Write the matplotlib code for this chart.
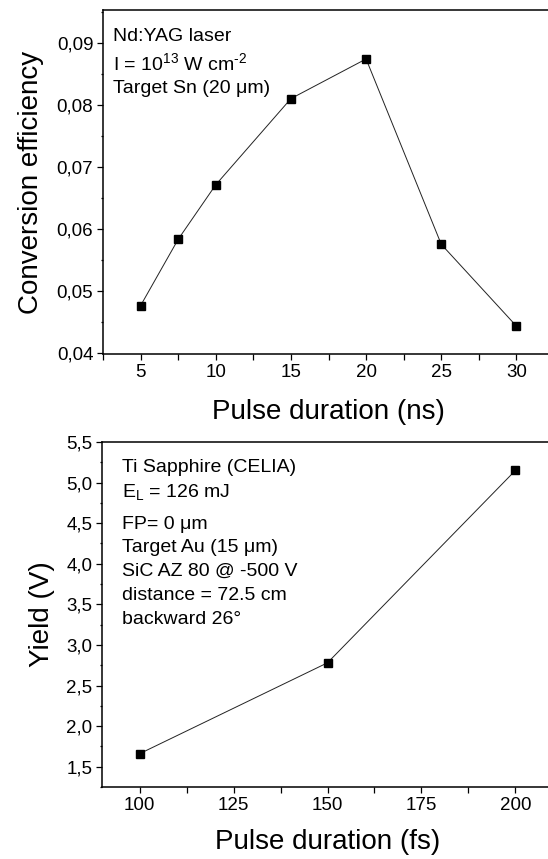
import matplotlib
matplotlib.use('Agg')
import matplotlib.pyplot as plt
from matplotlib.ticker import MultipleLocator, FuncFormatter

plt.rcParams['font.family'] = ['Liberation Sans', 'DejaVu Sans']
plt.rcParams['mathtext.fontset'] = 'custom'
plt.rcParams['mathtext.rm'] = 'Liberation Sans'
plt.rcParams['mathtext.it'] = 'Liberation Sans:italic'

# data
ns_duration = [5, 7.5, 10, 15, 20, 25, 30]
conv_eff = [0.0476, 0.0583, 0.0671, 0.0810, 0.0874, 0.0575, 0.0443]

fs_duration = [100, 150, 200]
yield_v = [1.66, 2.78, 5.15]

top_notes = ['Nd:YAG laser', 'I = 10$^{13}$ W cm$^{\\text{-2}}$', 'Target Sn (20 μm)']
bottom_notes = ['Ti Sapphire (CELIA)', 'E$_\\mathregular{L}$ = 126 mJ', 'FP= 0 μm',
                'Target Au (15 μm)', 'SiC AZ 80 @ -500 V', 'distance = 72.5 cm',
                'backward 26°']

fig = plt.figure(figsize=(5.48, 8.59), dpi=100)
W, H = 548, 859

def px_axes(left, top, right, bottom):
    return fig.add_axes([left / W, 1 - bottom / H, (right - left) / W, (bottom - top) / H])

ax1 = px_axes(103, 10, 554, 354)
ax2 = px_axes(102, 442, 553, 787)

comma1 = FuncFormatter(lambda v, p: ('%.1f' % v).replace('.', ','))
comma2 = FuncFormatter(lambda v, p: ('%.2f' % v).replace('.', ','))

for ax in (ax1, ax2):
    ax.spines['right'].set_visible(False)
    for s in ('left', 'bottom', 'top'):
        ax.spines[s].set_linewidth(1.1)
    ax.tick_params(which='both', direction='out', top=False, right=False,
                   labelsize=13.5, width=0.9, pad=3)
    ax.tick_params(which='major', length=4)
    ax.tick_params(axis='x', which='minor', length=4, width=0.9)
    ax.tick_params(axis='y', which='minor', length=1.5, width=0.9)

# top: ns pulses
ax1.plot(ns_duration, conv_eff, color='#222222', lw=0.7, marker='s', ms=5.5,
         mfc='black', mec='black')
ax1.set_xlim(2.5, 32.5)
ax1.set_ylim(0.0398, 0.0953)
ax1.xaxis.set_major_locator(MultipleLocator(5))
ax1.xaxis.set_minor_locator(MultipleLocator(2.5))
ax1.yaxis.set_major_locator(MultipleLocator(0.01))
ax1.yaxis.set_minor_locator(MultipleLocator(0.005))
ax1.yaxis.set_major_formatter(comma2)
ax1.set_xlabel('Pulse duration (ns)', fontsize=20, labelpad=13)
ax1.set_ylabel('Conversion efficiency', fontsize=20, labelpad=9)
for txt, yf in zip(top_notes, [0.922, 0.846, 0.773]):
    ax1.text(0.0215, yf, txt, transform=ax1.transAxes, fontsize=14,
             ha='left', va='center')

# bottom: fs pulses
ax2.plot(fs_duration, yield_v, color='#222222', lw=0.7, marker='s', ms=5.5,
         mfc='black', mec='black')
ax2.set_xlim(90, 210)
ax2.set_ylim(1.25, 5.5)
ax2.xaxis.set_major_locator(MultipleLocator(25))
ax2.xaxis.set_minor_locator(MultipleLocator(12.5))
ax2.yaxis.set_major_locator(MultipleLocator(0.5))
ax2.yaxis.set_minor_locator(MultipleLocator(0.25))
ax2.yaxis.set_major_formatter(comma1)
ax2.set_xlabel('Pulse duration (fs)', fontsize=20, labelpad=11)
ax2.set_ylabel('Yield (V)', fontsize=20, labelpad=8)
for txt, yf in zip(bottom_notes, [0.925, 0.855, 0.760, 0.694, 0.624, 0.555, 0.486]):
    ax2.text(0.0437, yf, txt, transform=ax2.transAxes, fontsize=14,
             ha='left', va='center')

fig.savefig('out.png', dpi=100)
